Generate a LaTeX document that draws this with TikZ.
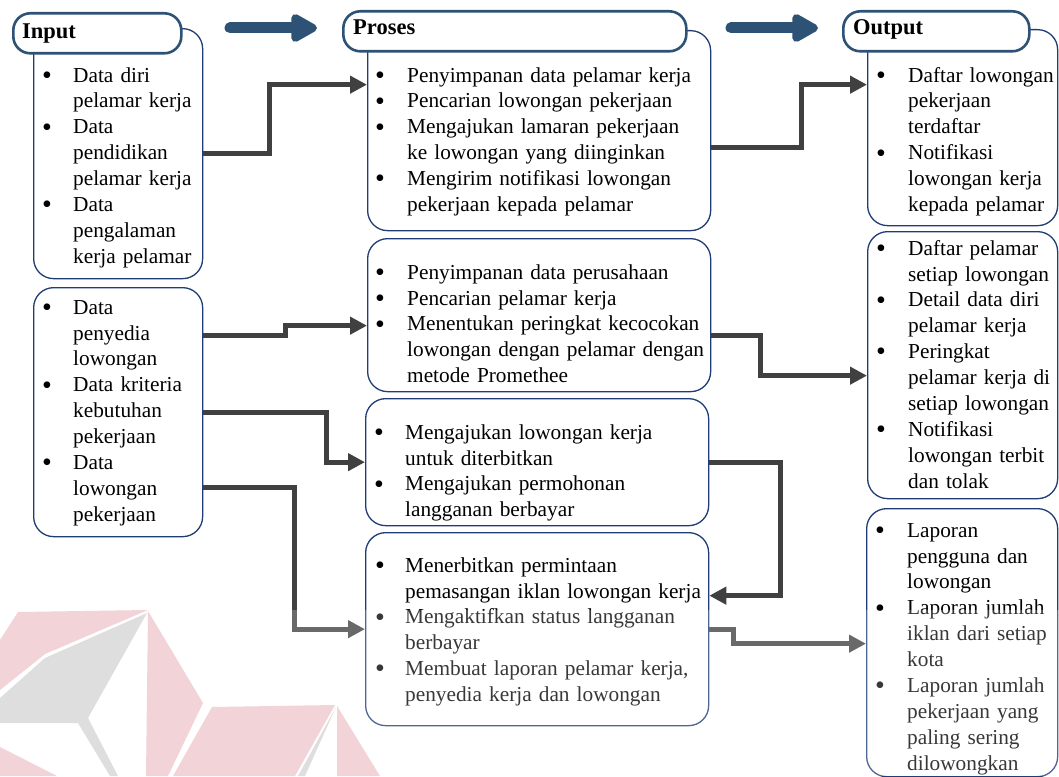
\documentclass[tikz,border=0pt]{standalone}
\usepackage{fontspec}
\setmainfont{Liberation Serif}
\usetikzlibrary{arrows.meta,calc}
\definecolor{hdrblue}{HTML}{2E5275}
\definecolor{boxnavy}{HTML}{1F3C74}
\definecolor{connclr}{HTML}{404040}
\definecolor{wmpink}{HTML}{F2D3D7}
\definecolor{wmgray}{HTML}{DEDEDE}
\newlength\bind
\newcommand\bitem[1]{\par\noindent\hangindent=\bind\hangafter=1\makebox[\bind][l]{\rule{0pt}{17pt}\raisebox{-2.2pt}{\fontsize{28}{28}\selectfont\textbullet}}#1\par}
\tikzset{
  bodybox/.style={draw=boxnavy, line width=1.3pt, fill=white, rounded corners=20pt, inner sep=0pt, anchor=north west},
  hdrbox/.style={draw=hdrblue, line width=2.6pt, fill=white, rounded corners=17pt, inner sep=0pt, anchor=north west},
  hdrtxt/.style={font=\fontsize{22.5}{27}\selectfont\bfseries, inner sep=0pt, anchor=base west},
  textblk/.style={font=\fontsize{21.3}{25.9}\selectfont, inner sep=0pt, anchor=north west, text width=400pt},
  conn/.style={draw=connclr, line width=5pt, -{Triangle[length=17pt,width=17pt]}},
  bigarrow/.style={draw=hdrblue, line width=11pt, line cap=round, -{Triangle[length=30pt,width=31pt,round=false]}},
}
\begin{document}
\begin{tikzpicture}[x=1pt,y=-1pt]
\useasboundingbox (0,0) rectangle (1059,776);
% body boxes
\node[bodybox, minimum width=169, minimum height=250] (in1) at (33,28) {};
\node[bodybox, minimum width=169, minimum height=249] (in2) at (33,287) {};
\node[bodybox, minimum width=343, minimum height=200] (pr1) at (367,30) {};
\node[bodybox, minimum width=343, minimum height=153] (pr2) at (367,238) {};
\node[bodybox, minimum width=343, minimum height=127] (pr3) at (365,398) {};
\node[bodybox, minimum width=343, minimum height=193] (pr4) at (365,532) {};
\node[bodybox, minimum width=190, minimum height=196] (out1) at (867,29) {};
\node[bodybox, minimum width=190, minimum height=267] (out2) at (867,231) {};
\node[bodybox, minimum width=191, minimum height=268] (out3) at (866,508) {};
% header boxes
\node[hdrbox, minimum width=168, minimum height=40] (hin) at (12,12) {};
\node[hdrbox, minimum width=343, minimum height=40] (hpr) at (342,10) {};
\node[hdrbox, minimum width=186, minimum height=40] (hout) at (842,10) {};
\node[hdrtxt] (hint) at (22,38) {Input};
\node[hdrtxt] (hprt) at (353,35) {Proses};
\node[hdrtxt] (houtt) at (853,35) {Output};
% big arrows
\coordinate (a1s) at (230,28);
\coordinate (a1e) at (317,28);
\coordinate (a2s) at (731,28);
\coordinate (a2e) at (818,28);
\draw[bigarrow] (a1s) -- (a1e);
\draw[bigarrow] (a2s) -- (a2e);
% texts
\node[textblk] (in1t) at (42,56) {\setlength\bind{31pt}%
\bitem{Data diri\newline pelamar kerja}
\bitem{Data\newline pendidikan\newline pelamar kerja}
\bitem{Data\newline pengalaman\newline kerja pelamar}};
\node[textblk] (in2t) at (42,288) {\setlength\bind{31pt}%
\bitem{Data\newline penyedia\newline lowongan}
\bitem{Data kriteria\newline kebutuhan\newline pekerjaan}
\bitem{Data\newline lowongan\newline pekerjaan}};
\node[textblk] (pr1t) at (375,56) {\setlength\bind{32pt}%
\bitem{Penyimpanan data pelamar kerja}
\bitem{Pencarian lowongan pekerjaan}
\bitem{Mengajukan lamaran pekerjaan\newline ke lowongan yang diinginkan}
\bitem{Mengirim notifikasi lowongan\newline pekerjaan kepada pelamar}};
\node[textblk] (pr2t) at (375,253) {\setlength\bind{32pt}%
\bitem{Penyimpanan data perusahaan}
\bitem{Pencarian pelamar kerja}
\bitem{Menentukan peringkat kecocokan\newline lowongan dengan pelamar dengan\newline metode Promethee}};
\node[textblk] (pr3t) at (374,413) {\setlength\bind{31pt}%
\bitem{Mengajukan lowongan kerja\newline untuk diterbitkan}
\bitem{Mengajukan permohonan\newline langganan berbayar}};
\node[textblk] (pr4t) at (375,546) {\setlength\bind{30pt}%
\bitem{Menerbitkan permintaan\newline pemasangan iklan lowongan kerja}
\bitem{Mengaktifkan status langganan\newline berbayar}
\bitem{Membuat laporan pelamar kerja,\newline penyedia kerja dan lowongan}};
\node[textblk] (out1t) at (876,56) {\setlength\bind{32pt}%
\bitem{Daftar lowongan\newline pekerjaan\newline terdaftar}
\bitem{Notifikasi\newline lowongan kerja\newline kepada pelamar}};
\node[textblk] (out2t) at (876,229) {\setlength\bind{32pt}%
\bitem{Daftar pelamar\newline setiap lowongan}
\bitem{Detail data diri\newline pelamar kerja}
\bitem{Peringkat\newline pelamar kerja di\newline setiap lowongan}
\bitem{Notifikasi\newline lowongan terbit\newline dan tolak}};
\node[textblk] (out3t) at (875,511) {\setlength\bind{32pt}%
\bitem{Laporan\newline pengguna dan\newline lowongan}
\bitem{Laporan jumlah\newline iklan dari setiap\newline kota}
\bitem{Laporan jumlah\newline pekerjaan yang\newline paling sering\newline dilowongkan}};
% connectors
\draw[conn] (in1.east) -- ++(66,0) |- ([yshift=46pt]pr1.west);
\draw[conn] ([yshift=-17pt]pr1.east) -- ++(90,0) |- ([yshift=43pt]out1.west);
\draw[conn] ([yshift=76.5pt]in2.east) -- ++(82,0) |- ([yshift=-10.5pt]pr2.west);
\draw[conn] (in2.east) -- ++(123,0) |- (pr3.west);
\draw[conn] ([yshift=-75.5pt]in2.east) -- ++(91,0) |- (pr4.west);
\draw[conn] ([yshift=-20.5pt]pr2.east) -- ++(49,0) |- ([yshift=-10.5pt]out2.west);
\draw[conn] (pr3.east) -- ++(71,0) |- ([yshift=33.5pt]pr4.east);
\draw[conn] (pr4.east) -- ++(24,0) |- ([yshift=-1pt]out3.west);
% watermark wash
\fill[white, opacity=0.22] (0,610) rectangle (1059,776);
% watermark
\fill[wmpink] (18,612) -- (148,610) -- (45,654) -- (0,690) -- (0,640) -- cycle;
\fill[wmgray] (147,613) -- (88,718) -- (118,776) -- (110,776) -- (78,723) -- (0,723) -- (0,698) -- (45,658) -- cycle;
\fill[wmpink] (0,747) -- (57,776) -- (0,776) -- cycle;
\fill[wmpink] (148,611) -- (203,703) -- (168,776) -- (146,776) -- cycle;
\fill[wmpink] (212,707) -- (335,705) -- (295,776) -- (173,776) -- cycle;
\fill[wmgray] (336,707) -- (305,776) -- (298,776) -- cycle;
\fill[wmpink] (337,706) -- (380,776) -- (337,776) -- cycle;
\end{tikzpicture}
\end{document}
